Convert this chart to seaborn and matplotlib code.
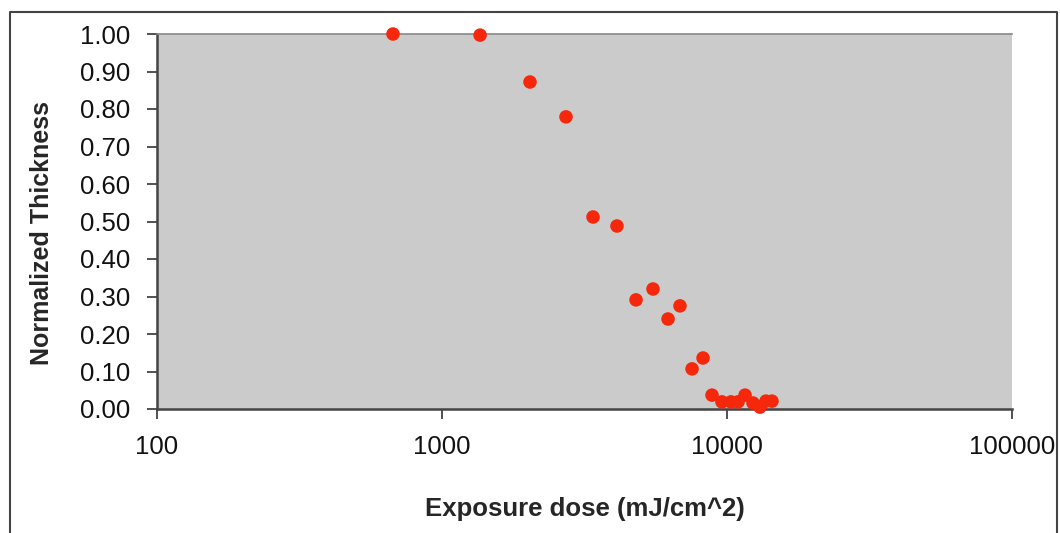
import numpy as np
import pandas as pd
import matplotlib
matplotlib.use("Agg")
import matplotlib.pyplot as plt
import matplotlib.ticker as mticker
from matplotlib.lines import Line2D
import seaborn as sns

# values
dose = [673, 1360, 2036, 2723, 3388, 4111, 4795, 5500, 6210, 6840,
        7540, 8240, 8860, 9600, 10330, 10930, 11570, 12340, 13060, 13700, 14380]
thickness = [1.00, 0.997, 0.872, 0.779, 0.512, 0.488, 0.291, 0.320, 0.240, 0.275,
             0.107, 0.136, 0.037, 0.019, 0.019, 0.019, 0.037, 0.016, 0.005, 0.021, 0.021]
x_ticks = [100, 1000, 10000, 100000]
y_ticks = [0.0, 0.1, 0.2, 0.3, 0.4, 0.5, 0.6, 0.7, 0.8, 0.9, 1.0]

df = pd.DataFrame({"dose": dose, "thickness": thickness})

sns.set_style("white")
plt.rcParams["font.family"] = ["Liberation Sans", "DejaVu Sans"]

fig = plt.figure(figsize=(10.6, 5.33), dpi=100)
ax = fig.add_axes([157 / 1060, 1 - 409 / 533, (1012 - 157) / 1060, (409 - 34) / 533])
ax.set_facecolor("#cbcbcb")

sns.scatterplot(data=df, x="dose", y="thickness", ax=ax, color="#f5280c",
                s=95, edgecolor="none", clip_on=False, zorder=3)

ax.set_xscale("log")
ax.set_xlim(100, 100000)
ax.set_ylim(0, 1)
ax.xaxis.set_major_locator(mticker.FixedLocator(x_ticks))
ax.xaxis.set_minor_locator(mticker.NullLocator())
ax.xaxis.set_major_formatter(mticker.FuncFormatter(lambda v, p: "%d" % v))
ax.set_yticks(y_ticks)
ax.yaxis.set_major_formatter(mticker.FormatStrFormatter("%.2f"))

ax.tick_params(axis="both", direction="out", length=7, width=1.2, color="#333333",
               labelsize=18.5, labelcolor="#111111")
ax.tick_params(axis="y", pad=12, left=True)
ax.tick_params(axis="x", pad=12, bottom=True)

for side in ["left", "bottom"]:
    ax.spines[side].set_color("#444444")
    ax.spines[side].set_linewidth(1.8)
ax.spines["top"].set_color("#888888")
ax.spines["top"].set_linewidth(1.2)
ax.spines["right"].set_visible(False)

ax.set_xlabel("Exposure dose (mJ/cm^2)", fontsize=18.5, fontweight="bold")
ax.set_ylabel("Normalized Thickness", fontsize=18, fontweight="bold")
ax.xaxis.set_label_coords(0.5, -0.235)
ax.yaxis.set_label_coords(-0.121, 0.47)

# outer chart border
W, H = 1060, 533
bx = [10 / W, 10 / W, 1057 / W, 1057 / W]
by = [-0.01, 1 - 12 / H, 1 - 12 / H, -0.01]
fig.add_artist(Line2D(bx, by, transform=fig.transFigure, color="#444444", lw=1.5))

fig.savefig("out.png", dpi=100)
